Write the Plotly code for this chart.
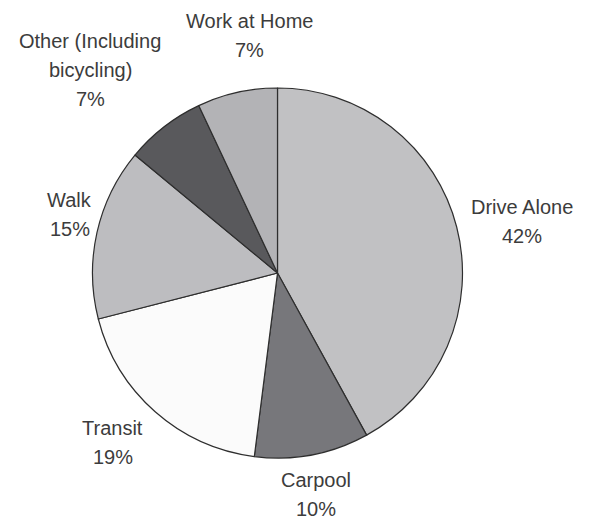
import math
import plotly.graph_objects as go

categories = ["Drive Alone", "Carpool", "Transit", "Walk", "Other (Including bicycling)", "Work at Home"]
label_lines = [["Drive Alone"], ["Carpool"], ["Transit"], ["Walk"], ["Other (Including", "bicycling)"], ["Work at Home"]]
shares = [42, 10, 19, 15, 7, 7]
colors = ["#c1c1c3", "#77777b", "#fbfbfb", "#bdbdc0", "#59595c", "#b3b3b6"]

W, H = 592, 521
CX, CY, R = 269.5, 265.0, 185.0   # pie centre / radius in figure pixels
FONT_SIZE = 20
LINE_GAP = 29
GAP = 14
# hand nudges (pixels) to keep the crowded labels apart, as in the original layout
LABEL_NUDGE = {
    "Drive Alone": (-2, 5),
    "Carpool": (-5, 0),
    "Transit": (-10, 0),
    "Walk": (6, -9),
    "Other (Including bicycling)": (-16, -13),
    "Work at Home": (28, -17),
}

fig = go.Figure(go.Pie(
    labels=categories,
    values=shares,
    textinfo="none",
    marker=dict(colors=colors, line=dict(color="#2e2e2e", width=1.2)),
    sort=False,
    direction="clockwise",
    rotation=0,
    showlegend=False,
    hoverinfo="label+percent",
    domain=dict(x=[(CX - R) / W, (CX + R) / W], y=[(H - CY - R) / H, (H - CY + R) / H]),
))

# labels placed outside each slice, along its mid-angle
total = sum(shares)
cum = 0
annotations = []
for cat, lines, v in zip(categories, label_lines, shares):
    mid = (cum + v / 2) / total * 2 * math.pi
    cum += v
    ux, uy = math.sin(mid), -math.cos(mid)
    text_lines = lines + [f"{v}%"]
    hw = max(len(t) for t in text_lines) * 0.5 * FONT_SIZE / 2
    hh = (len(text_lines) - 1) * LINE_GAP / 2 + FONT_SIZE * 0.6
    nx, ny = LABEL_NUDGE[cat]
    bx = CX + (R + GAP) * ux + hw * ux + nx
    by = CY + (R + GAP) * uy + hh * uy + ny
    n = len(text_lines)
    for i, t in enumerate(text_lines):
        ly = by + (i - (n - 1) / 2) * LINE_GAP
        annotations.append(dict(
            x=bx / W, y=1 - ly / H, xref="paper", yref="paper",
            text=t, showarrow=False, xanchor="center", yanchor="middle",
            font=dict(family="Liberation Sans, Arial, sans-serif", size=FONT_SIZE, color="#3c3c3c"),
        ))

fig.update_layout(
    width=W, height=H,
    margin=dict(l=0, r=0, t=0, b=0),
    paper_bgcolor="white", plot_bgcolor="white",
    annotations=annotations,
)

fig.write_html("out.html")
